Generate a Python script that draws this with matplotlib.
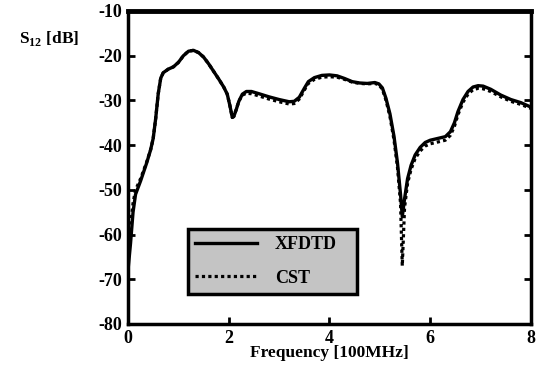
import numpy as np
import matplotlib.pyplot as plt

# Data
freq_x = [0.0, 0.05, 0.1, 0.15, 0.25, 0.37, 0.45, 0.5, 0.55, 0.6, 0.65, 0.7, 0.8, 0.9, 1.0,
          1.1, 1.2, 1.3, 1.4, 1.5, 1.6, 1.7, 1.8, 1.9, 1.97, 2.02, 2.07, 2.1, 2.15, 2.2,
          2.27, 2.35, 2.45, 2.6, 2.8, 3.0, 3.2, 3.3, 3.4, 3.5, 3.58, 3.7, 3.85, 4.0, 4.15,
          4.3, 4.45, 4.6, 4.75, 4.9, 4.98, 5.05, 5.12, 5.2, 5.28, 5.35, 5.41, 5.445, 5.49,
          5.55, 5.62, 5.7, 5.8, 5.9, 6.0, 6.15, 6.3, 6.4, 6.48, 6.55, 6.65, 6.75, 6.85,
          6.95, 7.05, 7.2, 7.4, 7.6, 7.8, 8.0]
xfdtd = [-68.0, -62.0, -55.0, -51.0, -48.0, -44.0, -41.0, -38.5, -34.0, -28.5, -25.0, -23.8,
         -23.0, -22.5, -21.5, -20.0, -19.0, -18.8, -19.3, -20.3, -21.8, -23.5, -25.2, -27.0,
         -28.6, -31.0, -33.8, -33.6, -32.0, -30.2, -28.6, -28.0, -28.0, -28.5, -29.2, -29.8,
         -30.3, -30.2, -29.3, -27.3, -25.8, -24.9, -24.4, -24.3, -24.5, -25.1, -25.8, -26.1,
         -26.2, -26.0, -26.3, -27.2, -29.5, -33.0, -38.0, -44.0, -51.0, -56.0, -52.0, -47.5,
         -44.5, -42.2, -40.5, -39.4, -38.9, -38.5, -38.1, -37.0, -35.0, -32.5, -29.8, -28.0,
         -27.0, -26.7, -26.8, -27.5, -28.8, -29.8, -30.5, -31.5]
cst = [-62.0, -58.0, -53.0, -50.0, -47.5, -43.8, -41.0, -38.5, -34.0, -28.5, -25.0, -23.8,
       -23.0, -22.5, -21.5, -20.0, -19.0, -18.8, -19.3, -20.3, -21.8, -23.5, -25.2, -27.0,
       -28.6, -31.0, -33.8, -33.6, -32.0, -30.2, -28.8, -28.4, -28.5, -29.0, -29.7, -30.3,
       -30.8, -30.7, -29.7, -27.7, -26.2, -25.3, -24.8, -24.7, -24.8, -25.3, -25.9, -26.2,
       -26.3, -26.2, -26.5, -27.5, -29.9, -33.6, -38.8, -45.0, -53.0, -67.0, -54.0, -48.5,
       -45.4, -43.0, -41.3, -40.2, -39.7, -39.3, -38.9, -37.8, -35.8, -33.2, -30.4, -28.6,
       -27.6, -27.3, -27.4, -28.0, -29.2, -30.2, -30.9, -31.8]

plt.rcParams['font.family'] = ['Liberation Serif', 'DejaVu Serif']
plt.rcParams['font.weight'] = 'bold'
plt.rcParams['axes.unicode_minus'] = False
plt.rcParams['mathtext.fontset'] = 'custom'
plt.rcParams['mathtext.rm'] = 'Liberation Serif:bold'
plt.rcParams['mathtext.bf'] = 'Liberation Serif:bold'

fig = plt.figure(figsize=(5.41, 3.74), dpi=100)
ax = fig.add_axes([0.2366, 0.1337, 0.7449, 0.8369])

ax.plot(freq_x, xfdtd, 'k-', lw=2.4, label='XFDTD')
ax.plot(freq_x, cst, color='k', ls=(0, (1, 1)), lw=2.3, label='CST')

ax.set_xlim(0, 8)
ax.set_ylim(-80, -10)
ax.set_xticks([0, 2, 4, 6, 8])
ax.set_yticks(np.arange(-80, -9, 10))
ax.tick_params(direction='in', length=5, width=2, labelsize=13, right=True, pad=4)
for lab in ax.get_xticklabels() + ax.get_yticklabels():
    lab.set_fontweight('bold')
for sp in ax.spines.values():
    sp.set_linewidth(2.5)
ax.spines['top'].set_linewidth(3.5)

ax.set_xlabel('Frequency [100MHz]', fontsize=12.5, fontweight='bold', labelpad=-1)
fig.text(0.035, 0.885, r'S$_{12}$ [dB]', fontsize=12.5, fontweight='bold')

leg = ax.legend(loc='lower left', bbox_to_anchor=(0.149, 0.096, 0.42, 0.236), mode='expand',
                fancybox=False, framealpha=1, facecolor='#c4c4c4', edgecolor='black',
                handlelength=3.4, borderaxespad=0, labelspacing=0.9, handletextpad=1.0,
                prop={'weight': 'bold', 'size': 13})
leg.get_frame().set_linewidth(2.5)

fig.savefig('out.png', dpi=100)
